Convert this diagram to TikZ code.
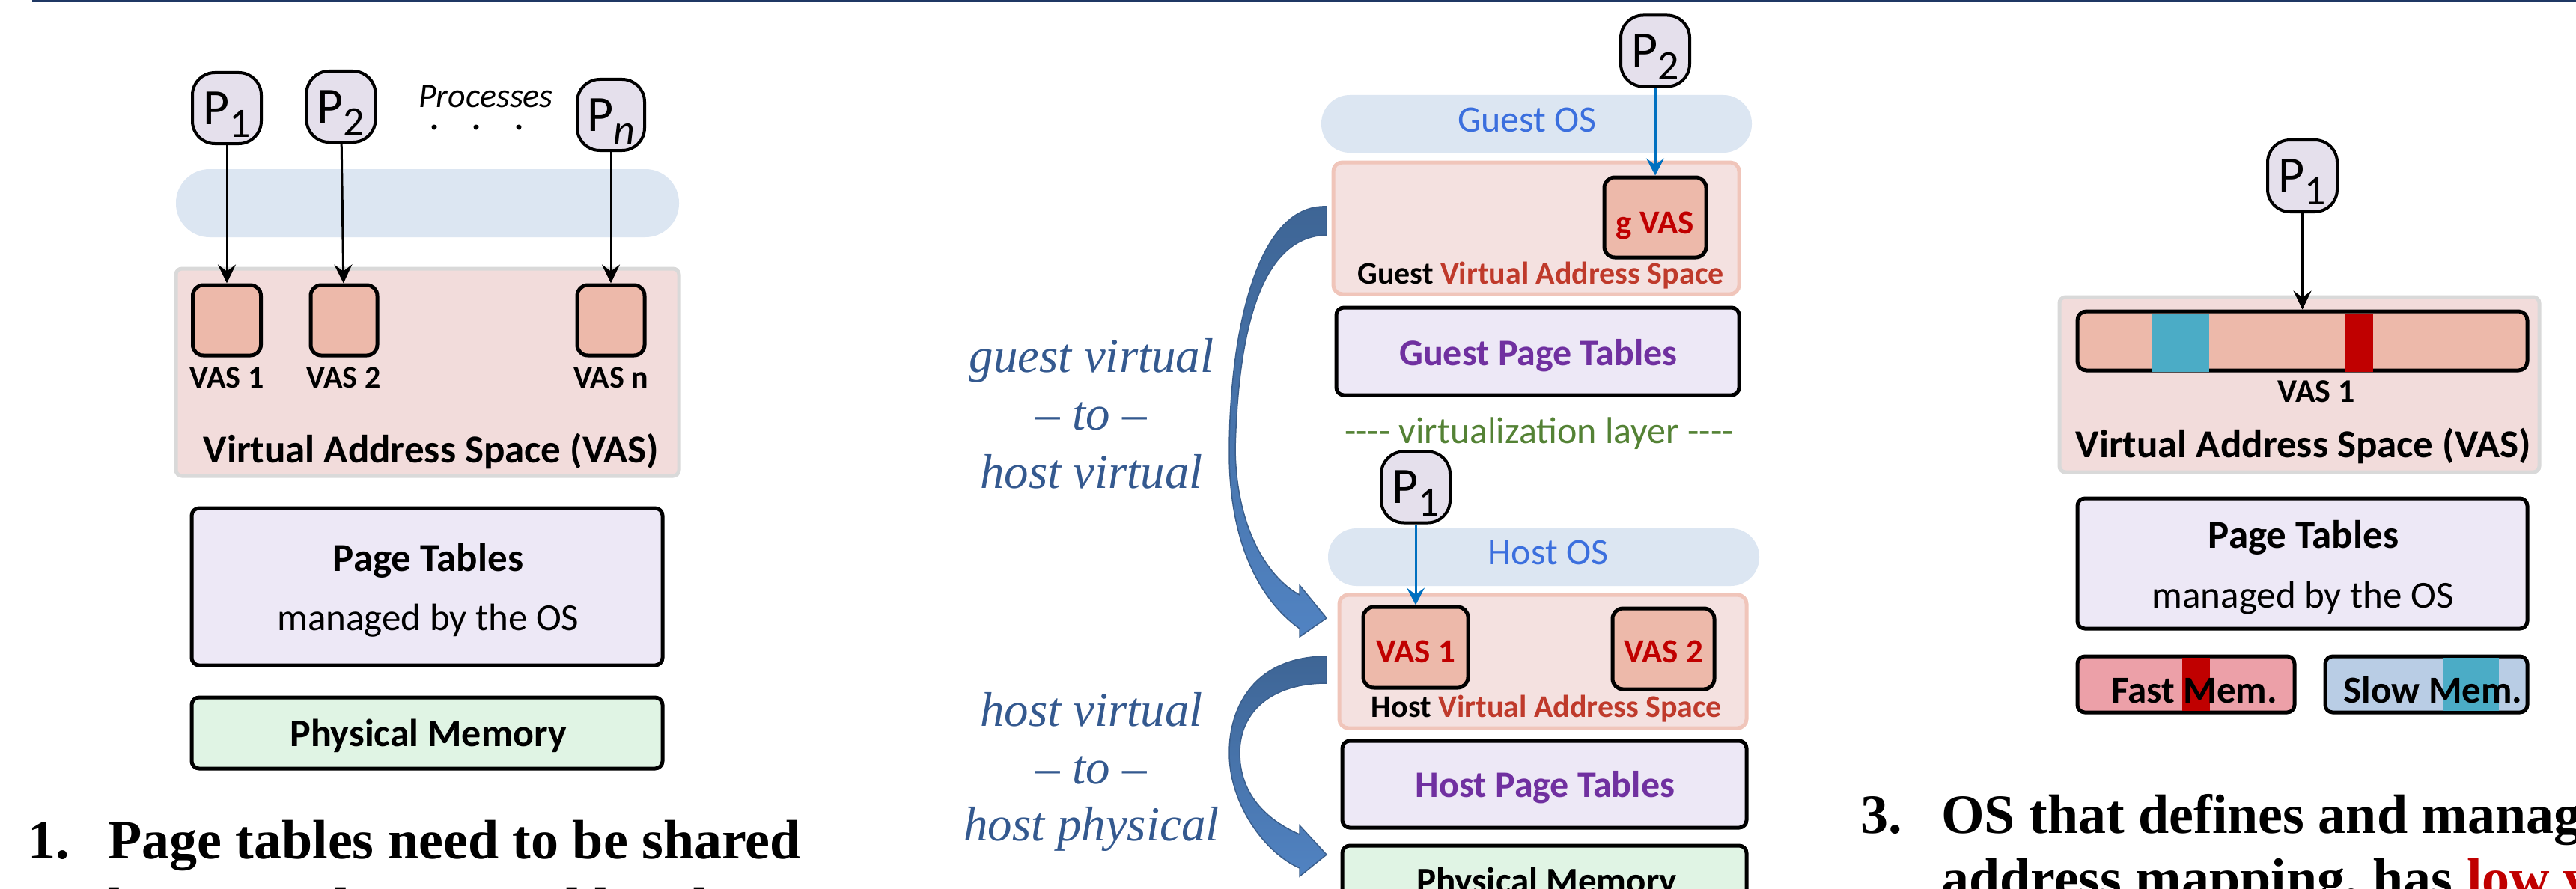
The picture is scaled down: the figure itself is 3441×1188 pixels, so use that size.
\documentclass[tikz,border=0pt]{standalone}
\usepackage{fontspec}
\setmainfont{Carlito}
\newfontfamily\itemfont{Liberation Serif}
\usetikzlibrary{arrows.meta}
\definecolor{navy}{HTML}{1F3864}
\definecolor{pfill}{HTML}{E5E0EC}
\definecolor{osblue}{HTML}{DCE6F2}
\definecolor{regfill}{HTML}{F2DCDB}
\definecolor{reggray}{HTML}{D9D9D9}
\definecolor{regpink}{HTML}{F0C5BA}
\definecolor{vasfill}{HTML}{EDB9AA}
\definecolor{ptfill}{HTML}{EDE8F6}
\definecolor{pmfill}{HTML}{E0F4E4}
\definecolor{vasred}{HTML}{C00000}
\definecolor{vasorange}{HTML}{BF3A2B}
\definecolor{osfont}{HTML}{3B6FDE}
\definecolor{purp}{HTML}{7030A0}
\definecolor{layergreen}{HTML}{548235}
\definecolor{pblue}{HTML}{0070C0}
\definecolor{labblue}{HTML}{34598F}
\definecolor{arrdark}{HTML}{3E6595}
\definecolor{arrlight}{HTML}{5183C2}
\definecolor{arredge}{HTML}{3A5E8C}
\definecolor{fastfill}{HTML}{ECA0A8}
\definecolor{slowfill}{HTML}{B9CDE5}
\definecolor{cyanblk}{HTML}{4BACC6}
\newcommand\fsz[1]{\fontsize{#1}{#1}\selectfont}
\begin{document}
\begin{tikzpicture}[x=1pt,y=-1pt,
  pnode/.style={draw=black, line width=4pt, fill=pfill, rounded corners=30pt,
    minimum width=92pt, minimum height=95pt, inner sep=0pt, font=\fsz{68}},
  pill/.style={fill=osblue, inner sep=0pt},
  region/.style={fill=regfill, draw=reggray, line width=5pt, rounded corners=8pt, inner sep=0pt},
  gregion/.style={fill=regfill!85!white, draw=regpink, line width=5pt, rounded corners=12pt, inner sep=0pt},
  vasbox/.style={fill=vasfill, draw=black, line width=5pt, rounded corners=14pt, inner sep=0pt},
  ptbox/.style={fill=ptfill, draw=black, line width=5pt, rounded corners=10pt, inner sep=0pt},
  pmbox/.style={fill=pmfill, draw=black, line width=5pt, rounded corners=10pt, inner sep=0pt},
  memfast/.style={fill=fastfill, draw=black, line width=5pt, rounded corners=10pt, inner sep=0pt},
  memslow/.style={fill=slowfill, draw=black, line width=5pt, rounded corners=10pt, inner sep=0pt},
  txt/.style={anchor=base, inner sep=0pt},
  itemtxt/.style={anchor=base west, inner sep=0pt, font=\itemfont\fsz{74}\bfseries},
  lab/.style={anchor=base, inner sep=0pt, font=\itemfont\fsz{65}\itshape, text=labblue},
  parrow/.style={line width=3pt, -{Stealth[length=25pt,width=24pt,inset=9pt]}},
  barrow/.style={line width=3pt, pblue, -{Stealth[length=23pt,width=24pt,inset=9pt]}},
  curvarr/.style={top color=arrdark, bottom color=arrlight, draw=arredge, line width=1.5pt}
]
\useasboundingbox (0,0) rectangle (3441,1188);
\fill[white] (0,0) rectangle (3441,1188);
\draw[navy, line width=3pt] (43,1.5) -- (3441,1.5);

% ================= LEFT PANEL =================
\node[pill, rounded corners=45pt, minimum width=672pt, minimum height=91pt] (osL) at (571,271.5) {};
\node[region, minimum width=672pt, minimum height=277pt] (regL) at (571,497.5) {};
\node[vasbox, minimum width=91pt, minimum height=94pt] (vas1L) at (303,428) {};
\node[vasbox, minimum width=89pt, minimum height=94pt] (vas2L) at (459.5,428) {};
\node[vasbox, minimum width=90pt, minimum height=94pt] (vasnL) at (816,428) {};
\node[pnode] (p1L) at (303,144.5) {P\smash{\raisebox{-17pt}{\fsz{56}1}}};
\node[pnode] (p2L) at (455.5,142.5) {P\smash{\raisebox{-17pt}{\fsz{56}2}}};
\node[pnode, minimum width=90pt] (pnL) at (816,153.5) {P\smash{\raisebox{-17pt}{\fsz{56}\itshape n}}};
\node[txt, font=\fsz{46}\itshape] (proc) at (649,143) {Processes};
\fill (580,170) circle (3.5pt) (636,170) circle (3.5pt) (693,170) circle (3.5pt);
\draw[parrow] (p1L) -- (vas1L);
\draw[parrow] (p2L) -- (vas2L);
\draw[parrow] (pnL) -- (vasnL);
\node[txt, font=\fsz{42}\bfseries] (l1) at (303,518) {VAS 1};
\node[txt, font=\fsz{42}\bfseries] (l2) at (459,518) {VAS 2};
\node[txt, font=\fsz{42}\bfseries] (ln) at (816,518) {VAS n};
\node[txt, font=\fsz{53}\bfseries] (vastL) at (576,618) {Virtual Address Space (VAS)};
\node[ptbox, minimum width=629pt, minimum height=210pt] (ptL) at (570.5,784) {};
\node[txt, font=\fsz{53}\bfseries] (ptLa) at (572,763) {Page Tables};
\node[txt, font=\fsz{51}] (ptLb) at (572,842) {managed by the OS};
\node[pmbox, minimum width=629pt, minimum height=95pt] (pmL) at (570.5,979.5) {};
\node[txt, font=\fsz{52}\bfseries] (pmLa) at (572,997) {Physical Memory};
\node[itemtxt] (i1n) at (37,1147) {1.};
\node[itemtxt] (i1a) at (144,1147) {Page tables need to be shared};
\node[itemtxt] (i1b) at (144,1237) {between the OS and hardware};

% ================= MIDDLE PANEL =================
\shadedraw[curvarr] (1772,276) .. controls (1680,272) and (1643,440) .. (1642,600)
  .. controls (1641,720) and (1680,800) .. (1736,840) -- (1736,851) -- (1772,826)
  -- (1736,782) -- (1736,795) .. controls (1690,770) and (1651,700) .. (1650,600)
  .. controls (1655,400) and (1700,316) .. (1772,314) -- cycle;
\shadedraw[curvarr] (1772,877) .. controls (1680,877) and (1642,940) .. (1642,1006)
  .. controls (1642,1075) and (1690,1140) .. (1736,1160) -- (1736,1171) -- (1772,1142)
  -- (1736,1103) -- (1736,1115) .. controls (1690,1095) and (1656,1060) .. (1656,1006)
  .. controls (1656,950) and (1700,913) .. (1772,913) -- cycle;
\node[lab] (la1) at (1458,497) {guest virtual};
\node[lab] (la2) at (1458,574) {– to –};
\node[lab] (la3) at (1458,652) {host virtual};
\node[lab] (lb1) at (1458,970) {host virtual};
\node[lab] (lb2) at (1458,1047) {– to –};
\node[lab] (lb3) at (1458,1123) {host physical};

\node[pill, rounded corners=38pt, minimum width=575pt, minimum height=77pt] (gos) at (2052.5,165.5) {};
\node[txt, font=\fsz{50}, text=osfont] (gosl) at (2040,176) {Guest OS};
\node[gregion, minimum width=542pt, minimum height=176pt] (greg) at (2052,305) {};
\node[vasbox, minimum width=136pt, minimum height=107pt] (gvas) at (2211,290.5) {};
\node[txt, font=\fsz{45}\bfseries, text=vasred] (gvasl) at (2211,312) {g VAS};
\node[pnode] (gp2) at (2211,68) {P\smash{\raisebox{-17pt}{\fsz{56}2}}};
\draw[barrow] (gp2) -- (gvas);
\node[txt, font=\fsz{42}\bfseries] (gregl) at (2058,379) {Guest \textcolor{vasorange}{Virtual Address Space}};
\node[ptbox, minimum width=538pt, minimum height=117pt] (gpt) at (2054,469.5) {};
\node[txt, font=\fsz{50}\bfseries, text=purp] (gptl) at (2055,488) {Guest Page Tables};
\node[txt, font=\fsz{50}, text=layergreen] (virt) at (2056,592) {{-}{-}{-}{-} virtualization layer {-}{-}{-}{-}};

\node[pill, rounded corners=38pt, minimum width=576pt, minimum height=77pt] (hos) at (2062,744.5) {};
\node[txt, font=\fsz{50}, text=osfont] (hosl) at (2068,754) {Host OS};
\node[gregion, minimum width=544pt, minimum height=178pt] (hreg) at (2061,884) {};
\node[vasbox, minimum width=140pt, minimum height=108pt] (hvas1) at (1891,865) {};
\node[vasbox, minimum width=136pt, minimum height=108pt] (hvas2) at (2222,867) {};
\node[txt, font=\fsz{45}\bfseries, text=vasred] (hv1l) at (1891,885) {VAS 1};
\node[txt, font=\fsz{45}\bfseries, text=vasred] (hv2l) at (2222,885) {VAS 2};
\node[pnode] (hp1) at (1891,651) {P\smash{\raisebox{-17pt}{\fsz{56}1}}};
\draw[barrow] (hp1) -- (hvas1);
\node[txt, font=\fsz{42}\bfseries] (hregl) at (2066,958) {Host \textcolor{vasorange}{Virtual Address Space}};
\node[ptbox, minimum width=540pt, minimum height=116pt] (hpt) at (2063,1048) {};
\node[txt, font=\fsz{50}\bfseries, text=purp] (hptl) at (2064,1065) {Host Page Tables};
\node[pmbox, minimum width=540pt, minimum height=110pt] (hpm) at (2063,1185) {};
\node[txt, font=\fsz{49}\bfseries] (hpml) at (2066,1193) {Physical Memory};

% ================= RIGHT PANEL =================
\node[region, minimum width=641pt, minimum height=234pt] (regR) at (3071.5,514) {};
\node[vasbox, rounded corners=12pt, minimum width=601pt, minimum height=79pt] (barR) at (3075.5,455.5) {};
\fill[cyanblk] (2875,419) rectangle (2951,497);
\fill[vasred] (3133,419) rectangle (3170,497);
\node[pnode, minimum width=93pt, minimum height=96pt] (p1R) at (3075.5,235) {P\smash{\raisebox{-17pt}{\fsz{56}1}}};
\draw[parrow] (p1R) -- (barR);
\node[txt, font=\fsz{44}\bfseries] (vr1) at (3094,537) {VAS 1};
\node[txt, font=\fsz{53}\bfseries] (vastR) at (3077,611) {Virtual Address Space (VAS)};
\node[ptbox, minimum width=601pt, minimum height=174pt] (ptR) at (3075.5,753) {};
\node[txt, font=\fsz{53}\bfseries] (ptRa) at (3077,732) {Page Tables};
\node[txt, font=\fsz{51}] (ptRb) at (3076,812) {managed by the OS};
\node[memfast, minimum width=290pt, minimum height=75pt] (fast) at (2920,914.5) {};
\node[memslow, minimum width=270pt, minimum height=75pt] (slow) at (3241,914.5) {};
\fill[vasred] (2915,879) rectangle (2952,950);
\fill[cyanblk] (3263,879) rectangle (3338,950);
\node[txt, font=\fsz{51}\bfseries] (fastl) at (2931,939) {Fast Mem.};
\node[txt, font=\fsz{51}\bfseries] (slowl) at (3250,939) {Slow Mem.};
\node[itemtxt] (i3n) at (2485,1113) {3.};
\node[itemtxt] (i3a) at (2593,1113) {OS that defines and manages};
\node[itemtxt] (i3b) at (2593,1198) {address mapping, has \textcolor{vasred}{low visibility}};
\end{tikzpicture}
\end{document}
